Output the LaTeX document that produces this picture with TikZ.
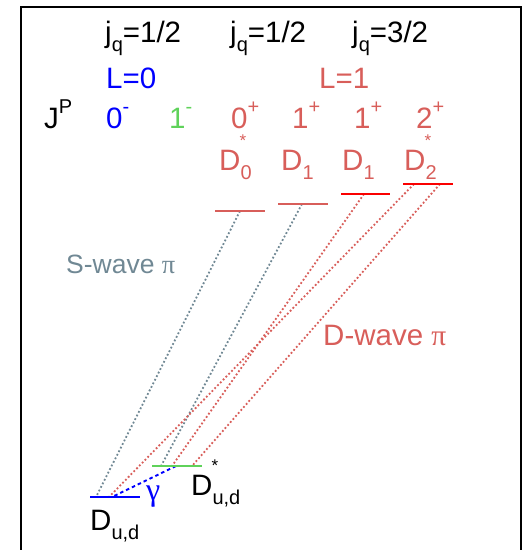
\documentclass[tikz,border=0pt]{standalone}
\usepackage{fontspec}
\setmainfont{Liberation Sans}
\newfontfamily\grkfont{Liberation Serif}
\definecolor{salmon}{RGB}{216,94,90}
\definecolor{lvlred}{RGB}{250,0,0}
\definecolor{swgray}{RGB}{112,136,148}
\definecolor{lgreen}{RGB}{95,210,90}
\definecolor{pblue}{RGB}{0,0,255}
\newcommand{\lo}[1]{\raisebox{-0.33em}{\fontsize{20}{20}\selectfont #1}}
\newcommand{\hi}[1]{\raisebox{0.5em}{\fontsize{20}{20}\selectfont #1}}
\tikzset{
  lbl/.style={inner sep=0pt, anchor=base west, font=\fontsize{29.5}{32}\selectfont},
  starlbl/.style={inner sep=0pt, anchor=base, font=\fontsize{17}{17}\selectfont},
  level/.style={line width=2.6pt},
  trans/.style={line width=1.8pt, dash pattern=on 1.8pt off 2.2pt},
  photon/.style={pblue, line width=1.9pt, dash pattern=on 3.5pt off 3pt},
}
\begin{document}
\begin{tikzpicture}[x=1pt,y=-1pt]
\useasboundingbox (0,0) rectangle (529,550);
\draw[line width=2pt] (21,556) -- (21,7) -- (521,7) -- (521,556);

% header
\node[lbl] (jq1) at (105,42) {j\lo{q}=1/2};
\node[lbl] (jq2) at (230,42) {j\lo{q}=1/2};
\node[lbl] (jq3) at (352,42) {j\lo{q}=3/2};
\node[lbl,pblue] (L0) at (106,88) {L=0};
\node[lbl,salmon] (L1) at (319,88) {L=1};
\node[lbl] (JP) at (44,128) {J\hi{P}};
\node[lbl,pblue] (p0m) at (106,128) {0\hi{-}};
\node[lbl,lgreen] (p1m) at (169,128) {1\hi{-}};
\node[lbl,salmon] (p0p) at (231,128) {0\hi{+}};
\node[lbl,salmon] (p1p) at (292,128) {1\hi{+}};
\node[lbl,salmon] (p1pb) at (354,128) {1\hi{+}};
\node[lbl,salmon] (p2p) at (416,128) {2\hi{+}};
\node[lbl,salmon] (D0) at (219,170) {D\lo{0}};
\node[starlbl,salmon] (st0) at (243,146) {*};
\node[lbl,salmon] (D1a) at (281,170) {D\lo{1}};
\node[lbl,salmon] (D1b) at (342,170) {D\lo{1}};
\node[lbl,salmon] (D2) at (404,170) {D\lo{2}};
\node[starlbl,salmon] (st2) at (428,146) {*};

% level coordinates
\coordinate (d0L) at (215,211); \coordinate (d0R) at (265,211);
\coordinate (d1aL) at (278,204); \coordinate (d1aR) at (328,204);
\coordinate (d1bL) at (341,194); \coordinate (d1bR) at (390,194);
\coordinate (d2L) at (403,184); \coordinate (d2R) at (453,184);
\coordinate (dL) at (90,497); \coordinate (dR) at (140,497);
\coordinate (dsL) at (152,466); \coordinate (dsR) at (202,466);

% transition end points
\coordinate (g1a) at (240,211); \coordinate (g1b) at (96,497);
\coordinate (g2a) at (302,204); \coordinate (g2b) at (161,466);
\coordinate (r1a) at (364,194); \coordinate (r1b) at (172,466);
\coordinate (r2a) at (414,184); \coordinate (r2b) at (109,497);
\coordinate (r3a) at (440,184); \coordinate (r3b) at (192,466);
\coordinate (ya) at (176,466); \coordinate (yb) at (112,497);

\draw[trans,swgray] (g1a) -- (g1b);
\draw[trans,swgray] (g2a) -- (g2b);
\draw[trans,salmon] (r1a) -- (r1b);
\draw[trans,salmon] (r2a) -- (r2b);
\draw[trans,salmon] (r3a) -- (r3b);
\draw[photon] (ya) -- (yb);

\draw[level,salmon] (d0L) -- (d0R);
\draw[level,salmon] (d1aL) -- (d1aR);
\draw[level,lvlred] (d1bL) -- (d1bR);
\draw[level,lvlred] (d2L) -- (d2R);
\draw[level,pblue] (dL) -- (dR);
\draw[level,lgreen] (dsL) -- (dsR);

\node[lbl,swgray,font=\fontsize{26.5}{30}\selectfont] (sw) at (66,273) {S-wave {\grkfont π}};
\node[lbl,salmon] (dw) at (323,345) {D-wave {\grkfont π}};
\node[lbl,pblue,font=\fontsize{32}{34}\selectfont] (gam) at (146,500) {\grkfont γ};
\node[lbl] (Dgs) at (90,530) {D\lo{u,d}};
\node[lbl] (Dst) at (191,495) {D\lo{u,d}};
\node[starlbl] (stD) at (215,471) {*};
\end{tikzpicture}
\end{document}
